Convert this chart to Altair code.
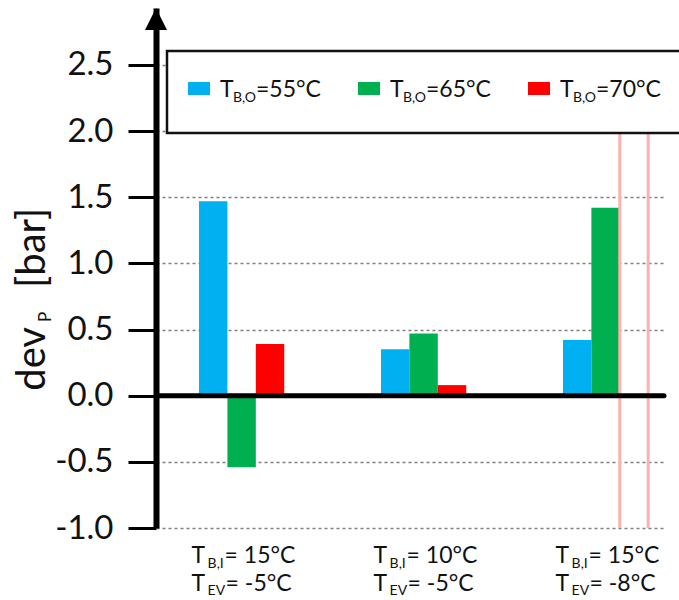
import altair as alt
import pandas as pd

# ---- data -------------------------------------------------------------
series = ["55°C", "65°C", "70°C"]            # T_B,O
colors = ["#00B0F0", "#00B050", "#FF0000"]
tbi = ["15°C", "10°C", "15°C"]                # T_B,I per group
tev = ["-5°C", "-5°C", "-8°C"]                # T_EV per group
v55 = [1.47, 0.35, 0.42]
v65 = [-0.54, 0.47, 1.42]
v70 = [0.39, 0.08, None]
y_ticks = [-1.0, -0.5, 0.0, 0.5, 1.0, 1.5, 2.0, 2.5]

# ---- layout constants -------------------------------------------------
W, H = 508, 520
FONT = "Lato"
INK = "#111111"
BW = 28.4 / 181.95
XS = alt.Scale(domain=[-0.4705, 2.321], nice=False, zero=False)
YS = alt.Scale(domain=[-1.0, 2.93], nice=False, zero=False)

rows = []
for gi in range(3):
    for si, vals in enumerate([v55, v65, v70]):
        rows.append({"g": gi, "s": si, "series": series[si], "value": vals[gi]})
df = pd.DataFrame(rows)
one = pd.DataFrame({"a": [0]})

bars = alt.Chart(df).transform_filter("isValid(datum.value)").transform_calculate(
    x0=f"datum.g + (datum.s - 1.5) * {BW}",
    x1=f"datum.g + (datum.s - 0.5) * {BW}",
).mark_bar().encode(
    x=alt.X("x0:Q", scale=XS, axis=None),
    x2="x1:Q",
    y=alt.Y("value:Q", scale=YS, axis=alt.Axis(
        values=y_ticks, title=None,
        labelExpr="replace(format(datum.value, '.1f'), '\u2212', '-')",
        domainColor="black", domainWidth=6,
        tickColor="black", tickWidth=3, tickSize=28,
        labelFont=FONT, labelFontSize=33, labelColor=INK, labelPadding=15,
        grid=True, gridColor="#808080", gridDash=[3, 3], gridWidth=1.5)),
    y2=alt.Y2Datum(0),
    color=alt.Color("series:N", scale=alt.Scale(domain=series, range=colors), legend=None),
)

pink = alt.Chart(df).transform_filter("!isValid(datum.value)").transform_calculate(
    e0=f"datum.g + (datum.s - 1.5) * {BW}",
    e1=f"datum.g + (datum.s - 0.5) * {BW}",
).transform_fold(["e0", "e1"], as_=["edge", "ex"]).mark_rule(
    color="#ffb0b0", strokeWidth=3
).encode(
    x=alt.X("ex:Q", scale=XS, axis=None),
    y=alt.YDatum(-1.0, scale=YS),
    y2=alt.Y2Datum(2.4),
)

zero = alt.Chart(one).mark_rule(color="black", strokeWidth=5, strokeCap="round").encode(
    x=alt.value(0), x2=alt.value(508), y=alt.YDatum(0, scale=YS)
)

arrow = alt.Chart(one).mark_point(
    shape="M-1,1L0,-1L1,1Z", filled=True, color="black", opacity=1, size=484
).encode(x=alt.value(0), y=alt.value(11))

legend_box = alt.Chart(one).mark_rect(fill="white", stroke=INK, strokeWidth=2.5).encode(
    x=alt.value(11), x2=alt.value(540), y=alt.value(43), y2=alt.value(125)
)

legend_layers = []
for k, name in enumerate(series):
    ox = 170 * k
    legend_layers.append(alt.Chart(one).mark_rect(color=colors[k]).encode(
        x=alt.value(32 + ox), x2=alt.value(54 + ox), y=alt.value(74), y2=alt.value(87)))
    legend_layers.append(alt.Chart(one).mark_text(
        text="T", font=FONT, fontSize=23, align="left", baseline="alphabetic", color=INK
    ).encode(x=alt.value(64 + ox), y=alt.value(89)))
    legend_layers.append(alt.Chart(one).mark_text(
        text="B,O", font=FONT, fontSize=14, align="left", baseline="alphabetic", color=INK
    ).encode(x=alt.value(77 + ox), y=alt.value(94)))
    legend_layers.append(alt.Chart(one).mark_text(
        text="=" + name, font=FONT, fontSize=23, align="left", baseline="alphabetic", color=INK
    ).encode(x=alt.value(100 + ox), y=alt.value(89)))

lab = pd.DataFrame({"g": [0, 1, 2], "l1": tbi, "l2": tev})
lab_t = alt.Chart(lab).transform_calculate(t1="'= ' + datum.l1", t2="'= ' + datum.l2")
GX = alt.X("g:Q", scale=XS, axis=None)


def piece(size, y, dx, text=None, field=None):
    m = lab_t.mark_text(font=FONT, fontSize=size, align="left", baseline="alphabetic",
                        color=INK, dx=dx, **({"text": text} if text else {}))
    enc = {"x": GX, "y": alt.value(y)}
    if field:
        enc["text"] = field
    return m.encode(**enc)


group_labels = [
    piece(23, 555, -50, text="T"),
    piece(14, 560, -34, text="B,I"),
    piece(23, 555, -17, field="t1:N"),
    piece(23, 583, -50, text="T"),
    piece(14, 587, -34, text="EV"),
    piece(23, 583, -16, field="t2:N"),
]

ytitle = [
    alt.Chart(one).mark_text(text="dev", font=FONT, fontSize=40, angle=270, align="right",
                             baseline="alphabetic", color=INK).encode(x=alt.value(-111), y=alt.value(319)),
    alt.Chart(one).mark_text(text="P", font=FONT, fontSize=17, angle=270, align="left",
                             baseline="alphabetic", color=INK).encode(x=alt.value(-105), y=alt.value(314)),
    alt.Chart(one).mark_text(text="[bar]", font=FONT, fontSize=40, angle=270, align="left",
                             baseline="alphabetic", color=INK).encode(x=alt.value(-111), y=alt.value(280)),
]

chart = alt.layer(
    bars, pink, legend_box, *legend_layers, zero, arrow, *group_labels, *ytitle
).properties(
    width=W, height=H,
    autosize=alt.AutoSizeParams(type="none"),
    padding={"left": 156, "top": 8, "right": 15, "bottom": 72},
).configure_view(stroke=None)

chart.save("out.html", embed_options={"renderer": "svg", "actions": False})
